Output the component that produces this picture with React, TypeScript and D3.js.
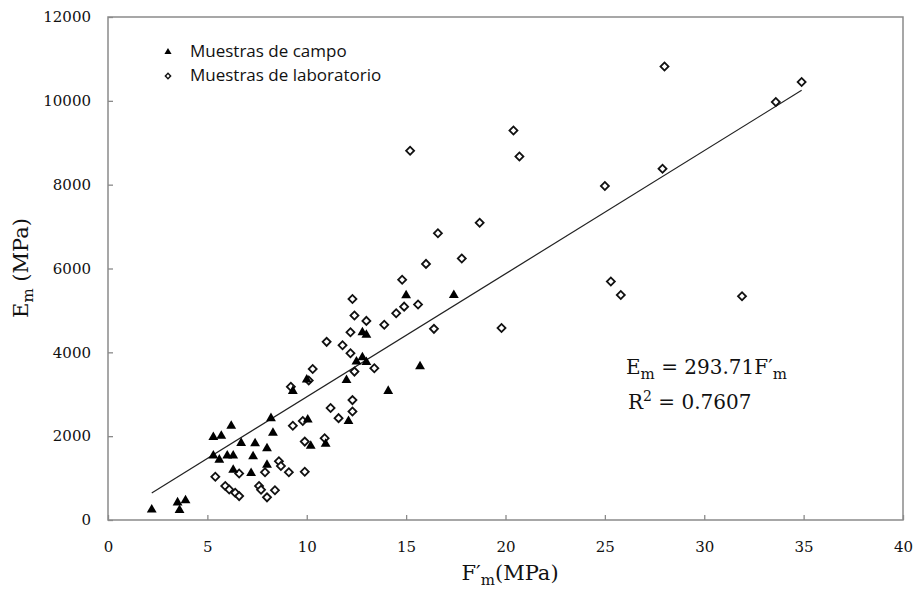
import React, { useEffect, useRef } from "react";
import * as d3 from "d3";

// Muestras de campo (triangles): [F'm MPa, Em MPa]
const campoX = [2.2, 3.5, 3.6, 3.9, 5.3, 5.7, 6.2, 5.3, 5.6, 6.0, 6.3, 6.7, 7.4, 7.3, 6.3, 7.2, 8.0, 8.0, 8.2, 8.3, 9.3, 10.0, 10.05, 10.2, 10.95, 12.0, 12.1, 12.5, 12.8, 13.0, 12.8, 13.0, 14.1, 15.0, 15.7, 17.4];
const campoY = [270, 440, 260, 490, 2000, 2030, 2270, 1560, 1460, 1560, 1560, 1860, 1850, 1540, 1220, 1140, 1730, 1340, 2450, 2100, 3100, 3370, 2420, 1790, 1840, 3360, 2380, 3800, 3900, 3790, 4500, 4440, 3100, 5380, 3690, 5390];

// Muestras de laboratorio (diamonds)
const labX = [5.4, 5.9, 6.1, 6.4, 6.6, 6.6, 7.6, 7.7, 8.0, 8.4, 7.9, 8.6, 8.7, 9.1, 9.9, 9.3, 9.2, 9.8, 9.9, 10.1, 10.3, 10.9, 11.2, 11.6, 11.0, 11.8, 12.2, 12.2, 12.3, 12.4, 12.4, 12.3, 12.3, 13.0, 13.4, 13.9, 14.5, 14.9, 14.8, 15.6, 15.2, 16.0, 16.4, 16.6, 17.8, 18.7, 19.8, 20.4, 20.7, 25.0, 25.3, 25.8, 27.9, 28.0, 31.9, 33.6, 34.9];
const labY = [1030, 810, 730, 650, 570, 1110, 810, 720, 540, 710, 1140, 1400, 1290, 1140, 1150, 2250, 3180, 2360, 1870, 3330, 3600, 1950, 2670, 2430, 4250, 4170, 3980, 4480, 5270, 4880, 3540, 2860, 2590, 4750, 3620, 4660, 4930, 5090, 5730, 5140, 8810, 6110, 4560, 6840, 6240, 7090, 4580, 9290, 8670, 7970, 5690, 5370, 8380, 10820, 5340, 9970, 10450];

const xTicks = [0, 5, 10, 15, 20, 25, 30, 35, 40];
const yTicks = [0, 2000, 4000, 6000, 8000, 10000, 12000];
const slope = 293.71;
const seriesNames = ["Muestras de campo", "Muestras de laboratorio"];

const W = 913;
const H = 589;
const margin = { top: 17, right: 10, bottom: 69, left: 108 };
const serif = "'DejaVu Serif', 'Liberation Serif', serif";
const sans = "'Open Sans', 'Noto Sans', sans-serif";

export default function App() {
  const ref = useRef<SVGSVGElement>(null);

  useEffect(() => {
    const svg = d3.select(ref.current);
    svg.selectAll("*").remove();

    const x = d3.scaleLinear().domain([0, 40]).range([margin.left, W - margin.right]);
    const y = d3.scaleLinear().domain([0, 12000]).range([H - margin.bottom, margin.top]);

    const campo = campoX.map((v, i) => ({ x: v, y: campoY[i] }));
    const lab = labX.map((v, i) => ({ x: v, y: labY[i] }));

    // plot frame
    svg
      .append("rect")
      .attr("x", x(0))
      .attr("y", y(12000))
      .attr("width", x(40) - x(0))
      .attr("height", y(0) - y(12000))
      .attr("fill", "none")
      .attr("stroke", "#8a8a8a")
      .attr("stroke-width", 1.5);

    // x axis (ticks pointing inward)
    const gx = svg
      .append("g")
      .attr("transform", `translate(0,${y(0)})`)
      .call(d3.axisBottom(x).tickValues(xTicks).tickSizeInner(-5).tickSizeOuter(0).tickPadding(21));
    gx.select(".domain").remove();
    gx.selectAll("line").attr("stroke", "#8a8a8a").attr("stroke-width", 1.3);
    gx.selectAll("text").attr("font-family", serif).attr("font-size", 15).attr("fill", "#111");

    // y axis
    const gy = svg
      .append("g")
      .attr("transform", `translate(${x(0)},0)`)
      .call(d3.axisLeft(y).tickValues(yTicks).tickFormat(d3.format("d")).tickSizeInner(-5).tickSizeOuter(0).tickPadding(17));
    gy.select(".domain").remove();
    gy.selectAll("line").attr("stroke", "#8a8a8a").attr("stroke-width", 1.3);
    gy.selectAll("text").attr("font-family", serif).attr("font-size", 15).attr("fill", "#111");

    // regression line through origin
    const allX = campoX.concat(labX);
    const [xmin, xmax] = d3.extent(allX) as [number, number];
    svg
      .append("path")
      .attr("d", d3.line<number>().x((d) => x(d)).y((d) => y(d * slope))([xmin, xmax]))
      .attr("stroke", "#222")
      .attr("stroke-width", 1.2)
      .attr("fill", "none");

    const tri = d3.symbol().type(d3.symbolTriangle).size(42);
    const dia = d3.symbol().type(d3.symbolSquare).size(32);

    // laboratorio
    svg
      .append("g")
      .selectAll("path")
      .data(lab)
      .enter()
      .append("path")
      .attr("d", dia())
      .attr("transform", (d) => `translate(${x(d.x)},${y(d.y)}) rotate(45)`)
      .attr("fill", "white")
      .attr("stroke", "#111")
      .attr("stroke-width", 1.8);

    // campo
    svg
      .append("g")
      .selectAll("path")
      .data(campo)
      .enter()
      .append("path")
      .attr("d", tri())
      .attr("transform", (d) => `translate(${x(d.x)},${y(d.y) + 1})`)
      .attr("fill", "#000");

    // legend
    const leg = svg.append("g");
    leg
      .append("path")
      .attr("d", d3.symbol().type(d3.symbolTriangle).size(22)())
      .attr("transform", "translate(168,52)")
      .attr("fill", "#000");
    leg
      .append("path")
      .attr("d", d3.symbol().type(d3.symbolSquare).size(14)())
      .attr("transform", "translate(168,76) rotate(45)")
      .attr("fill", "white")
      .attr("stroke", "#111")
      .attr("stroke-width", 1.4);
    leg
      .selectAll("text")
      .data(seriesNames)
      .enter()
      .append("text")
      .attr("x", 190)
      .attr("y", (d, i) => 57 + i * 24)
      .attr("font-family", sans)
      .attr("font-size", 17)
      .attr("fill", "#111")
      .text((d) => d);

    // equation
    const eq = svg.append("g").attr("font-family", serif).attr("font-size", 20).attr("fill", "#111");
    const t1 = eq.append("text").attr("x", 626).attr("y", 374);
    t1.append("tspan").text("E");
    t1.append("tspan").attr("dy", 5).attr("font-size", 15).text("m");
    t1.append("tspan").attr("dy", -5).text(` = ${slope}F′`);
    t1.append("tspan").attr("dy", 5).attr("font-size", 15).text("m");
    const t2 = eq.append("text").attr("x", 628).attr("y", 409);
    t2.append("tspan").text("R");
    t2.append("tspan").attr("dy", -8).attr("font-size", 14).text("2");
    t2.append("tspan").attr("dy", 8).text(" = 0.7607");

    // axis titles
    const xt = svg
      .append("text")
      .attr("x", 510)
      .attr("y", 580)
      .attr("text-anchor", "middle")
      .attr("font-family", serif)
      .attr("font-size", 21)
      .attr("fill", "#111");
    xt.append("tspan").text("F′");
    xt.append("tspan").attr("dy", 5).attr("font-size", 15).text("m");
    xt.append("tspan").attr("dy", -5).text("(MPa)");

    const yt = svg
      .append("text")
      .attr("transform", "translate(28,268) rotate(-90)")
      .attr("text-anchor", "middle")
      .attr("font-family", serif)
      .attr("font-size", 21)
      .attr("fill", "#111");
    yt.append("tspan").text("E");
    yt.append("tspan").attr("dy", 5).attr("font-size", 15).text("m");
    yt.append("tspan").attr("dy", -5).text(" (MPa)");
  }, []);

  return (
    <svg
      ref={ref}
      width={W}
      height={H}
      style={{ position: "absolute", left: 0, top: 0, background: "white" }}
    />
  );
}
